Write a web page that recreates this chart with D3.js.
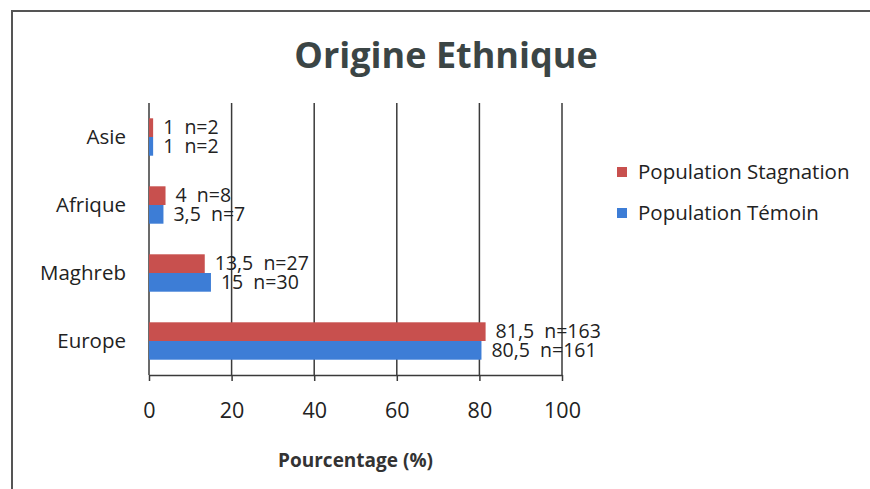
<!DOCTYPE html>
<html>
<head>
<meta charset="utf-8">
<script src="https://cdn.jsdelivr.net/npm/d3@7"></script>
<style>
  body { margin: 0; background: #fff; }
  text { font-family: 'Open Sans', sans-serif; }
</style>
</head>
<body>
<div id="chart"></div>
<script>
const categories = ['Asie', 'Afrique', 'Maghreb', 'Europe']
const seriesNames = ['Population Stagnation', 'Population Témoin']
const stagnation = [1, 4, 13.5, 81.5]
const stagnationN = [2, 8, 27, 163]
const temoin = [1, 3.5, 15, 80.5]
const temoinN = [2, 7, 30, 161]
const xTicks = [0, 20, 40, 60, 80, 100]

const colors = ['#c8504e', '#3d7dd6']
const width = 870
const height = 489
const margin = { top: 103, left: 149, right: 308, bottom: 114 }
const innerW = width - margin.left - margin.right
const innerH = height - margin.top - margin.bottom

const svg = d3
  .select('#chart')
  .append('svg')
  .attr('width', width)
  .attr('height', height)

// outer border (scan frame)
svg
  .append('path')
  .attr('d', 'M12,' + height + ' V11 H' + width)
  .attr('fill', 'none')
  .attr('stroke', '#555')
  .attr('stroke-width', 2)

svg
  .append('text')
  .attr('x', 446)
  .attr('y', 68)
  .attr('text-anchor', 'middle')
  .attr('font-weight', 'bold')
  .attr('font-size', 36)
  .attr('fill', '#3b4545')
  .text('Origine Ethnique')

const g = svg
  .append('g')
  .attr('transform', 'translate(' + margin.left + ',' + margin.top + ')')

const x = d3.scaleLinear().domain([0, 100]).range([0, innerW])
const y = d3.scaleBand().domain(categories).range([0, innerH]).paddingInner(0.45).paddingOuter(0.225)
const sub = d3.scaleBand().domain([0, 1]).range([0, y.bandwidth()])

// grid
g.selectAll('.grid')
  .data(xTicks)
  .enter()
  .append('line')
  .attr('x1', d => x(d))
  .attr('x2', d => x(d))
  .attr('y1', 0)
  .attr('y2', innerH)
  .attr('stroke', '#3a3a3a')
  .attr('stroke-width', 1.5)

const rows = categories.map((c, i) => ({
  cat: c,
  vals: [
    { s: 0, v: stagnation[i], n: stagnationN[i] },
    { s: 1, v: temoin[i], n: temoinN[i] }
  ]
}))

const group = g
  .selectAll('.cat')
  .data(rows)
  .enter()
  .append('g')
  .attr('transform', d => 'translate(0,' + y(d.cat) + ')')

group
  .selectAll('rect')
  .data(d => d.vals)
  .enter()
  .append('rect')
  .attr('x', 0)
  .attr('y', d => sub(d.s))
  .attr('width', d => x(d.v))
  .attr('height', sub.bandwidth())
  .attr('fill', d => colors[d.s])

group
  .selectAll('.lbl')
  .data(d => d.vals)
  .enter()
  .append('text')
  .attr('x', d => x(d.v) + 10)
  .attr('y', d => sub(d.s) + sub.bandwidth() / 2)
  .attr('dy', '0.34em')
  .attr('font-size', 19.5)
  .attr('fill', '#222')
  .style('white-space', 'pre')
  .text(d => String(d.v).replace('.', ',') + '  n=' + d.n)

// x axis
const xAxis = g
  .append('g')
  .attr('transform', 'translate(0,' + innerH + ')')
  .call(d3.axisBottom(x).tickValues(xTicks).tickSize(6).tickPadding(22).tickSizeOuter(0))
xAxis.select('.domain').attr('stroke', '#3a3a3a').attr('stroke-width', 1.5)
xAxis.selectAll('line').attr('stroke', '#3a3a3a').attr('stroke-width', 1.5)
xAxis
  .selectAll('text')
  .attr('font-size', 21.5)
  .attr('fill', '#222')
  .attr('font-family', "'Open Sans', sans-serif")

// y axis labels
g.selectAll('.ylab')
  .data(categories)
  .enter()
  .append('text')
  .attr('x', -23)
  .attr('y', d => y(d) + y.bandwidth() / 2)
  .attr('dy', '0.36em')
  .attr('text-anchor', 'end')
  .attr('font-size', 20.5)
  .attr('fill', '#222')
  .text(d => d)

svg
  .append('text')
  .attr('x', margin.left + innerW / 2)
  .attr('y', 467)
  .attr('text-anchor', 'middle')
  .attr('font-weight', 'bold')
  .attr('font-size', 19)
  .attr('fill', '#333')
  .text('Pourcentage (%)')

// legend
const legend = svg
  .selectAll('.legend')
  .data(seriesNames)
  .enter()
  .append('g')
  .attr('transform', (d, i) => 'translate(617,' + (172 + i * 41) + ')')

legend
  .append('rect')
  .attr('x', 0)
  .attr('y', -5)
  .attr('width', 10)
  .attr('height', 10)
  .attr('fill', (d, i) => colors[i])

legend
  .append('text')
  .attr('x', 21)
  .attr('dy', '0.36em')
  .attr('font-size', 20.5)
  .attr('fill', '#222')
  .text(d => d)
</script>
</body>
</html>
